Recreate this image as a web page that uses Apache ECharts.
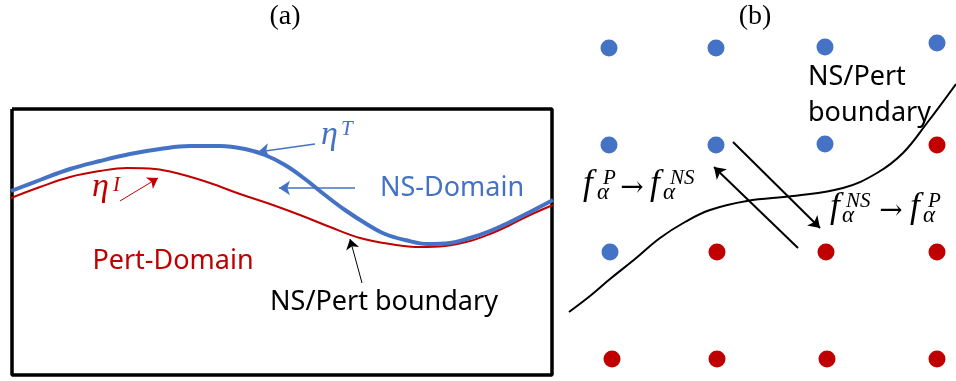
<!DOCTYPE html>
<html><head><meta charset="utf-8">
<script src="https://cdn.jsdelivr.net/npm/echarts@6/dist/echarts.min.js"></script>
<style>html,body{margin:0;padding:0;background:#fff}#c{width:956px;height:381px}</style>
</head><body><div id="c"></div>
<script>
// ---- data (pixel-space coordinates of the diagram) ----
const boxCorners = [[12,109],[552,109],[552,375],[12,375],[12,109]];
const blueInterface = [[11,191],[40,180],[70,169],[100,161],[130,154],[160,149],[190,146],[220,146],[245,149],[265,155],[285,165],[305,179],[325,195],[345,210],[365,223],[385,234],[405,240],[428,244],[450,243],[470,238],[490,231],[510,222],[530,212],[553,200]];
const redInterface = [[11,198],[40,187],[70,177],[100,171],[127,168],[155,169],[180,174],[210,183],[240,194],[270,204],[300,215],[330,227],[360,238],[390,244],[420,247],[445,246],[470,241],[490,234],[510,225],[530,215],[553,205]];
const boundaryCurve = [[569,312],[590,296],[610,279],[635,259],[660,238],[685,222],[710,210],[747,201],[793,196],[843,188],[877,173],[903,153],[927,123],[956,84]];
const blueNodes = [[609,48],[716,48],[825,47],[937,43],[609,145],[716,145],[825,144],[610,252]];
const redNodes = [[937,145],[717,252],[826,252],[937,252],[612,359],[717,359],[827,359],[937,359]];
const blueArrows = [[[315,144],[258,152]],[[355,188],[279,188]]];
const redArrows = [[[120,201],[158,178]]];
const thinBlackArrows = [[[362,283],[350,239]]];
const thickBlackArrows = [[[733,142],[820,228]],[[798,248],[714,167]]];
const panelTitles = [[285,17,'(a)'],[755,17,'(b)']];
const blueTexts = [[452,188,'NS-Domain']];
const redTexts = [[173,261,'Pert-Domain']];
const blackTexts = [[384,302,'NS/Pert boundary']];
const blackTextsLeft = [[808,77,'NS/Pert'],[808,113,'boundary']];
// math pieces: [x-left, baseline, text]
const mathBlueBig = [[321,146,'η']];
const mathBlueSup = [[341,136,'T']];
const mathRedBig = [[92,198,'η']];
const mathRedSup = [[113,192,'I']];
const mathBig = [[583,196,'f'],[650,196,'f'],[830,219,'f'],[910,219,'f']];
const mathSub = [[597,201,'α'],[663,201,'α'],[842,224,'α'],[923,224,'α']];
const mathSup = [[603,185,'P'],[670,185,'NS'],[846,208,'NS'],[928,208,'P']];
const mathArrows = [[632,189,'→'],[891,212,'→']];

const BLUE='#4472C4', RED='#C00000';
const SERIF='"Liberation Serif", "DejaVu Serif", serif';
const SANS='"Noto Sans", "Open Sans", sans-serif';

function textSeries(items, font){
  return {
    type:'scatter', symbolSize:0, silent:true, z:10,
    itemStyle:{opacity:1},
    data: items.map(t=>({value:[t[0], font.baseline ? t[1]-font.size*0.33 : t[1]], name:t[2]})),
    label:{show:true, position:[0,0], formatter:p=>p.name,
      fontSize:font.size, fontFamily:font.family, fontStyle:font.style||'normal',
      color:font.color, opacity:1, align:font.align||'center', verticalAlign:'middle'}
  };
}
function arrowSeries(list, color, width, size){
  return {type:'lines', coordinateSystem:'cartesian2d', silent:true, z:5,
    symbol:['none','arrow'], symbolSize:size,
    lineStyle:{color:color, width:width, opacity:1},
    data:list.map(c=>({coords:c}))};
}
function curve(data, color, width, z){
  return {type:'line', data:data, smooth:0.4, showSymbol:false, silent:true, z:z,
    lineStyle:{color:color, width:width}, itemStyle:{color:color}};
}

const chart = echarts.init(document.getElementById('c'), null, {renderer:'canvas'});
chart.setOption({
  animation:false,
  grid:{left:0,right:0,top:0,bottom:0},
  xAxis:{type:'value', min:0, max:956, show:false},
  yAxis:{type:'value', min:0, max:381, inverse:true, show:false},
  series:[
    {type:'line', data:boxCorners, showSymbol:false, silent:true, z:1, lineStyle:{color:'#000', width:3.5}},
    curve(redInterface, RED, 2, 2),
    curve(blueInterface, BLUE, 4, 3),
    curve(boundaryCurve, '#000', 2, 2),
    {type:'scatter', data:blueNodes, symbolSize:17, itemStyle:{color:BLUE, opacity:1}, silent:true, z:4},
    {type:'scatter', data:redNodes, symbolSize:17, itemStyle:{color:RED, opacity:1}, silent:true, z:4},
    arrowSeries(blueArrows, BLUE, 1.5, 11),
    arrowSeries(redArrows, RED, 1, 10),
    arrowSeries(thinBlackArrows, '#000', 1, 10),
    arrowSeries(thickBlackArrows, '#000', 2, 11),
    textSeries(panelTitles, {size:28, family:SERIF, color:'#000'}),
    textSeries(blueTexts, {size:27, family:SANS, color:BLUE}),
    textSeries(redTexts, {size:27, family:SANS, color:RED}),
    textSeries(blackTexts, {size:27, family:SANS, color:'#000'}),
    textSeries(blackTextsLeft, {size:27, family:SANS, color:'#000', align:'left'}),
    textSeries(mathBlueBig, {size:34, family:SERIF, style:'italic', color:BLUE, align:'left', baseline:true}),
    textSeries(mathBlueSup, {size:21, family:SERIF, style:'italic', color:BLUE, align:'left', baseline:true}),
    textSeries(mathRedBig, {size:34, family:SERIF, style:'italic', color:RED, align:'left', baseline:true}),
    textSeries(mathRedSup, {size:21, family:SERIF, style:'italic', color:RED, align:'left', baseline:true}),
    textSeries(mathBig, {size:35, family:SERIF, style:'italic', color:'#000', align:'left', baseline:true}),
    textSeries(mathSub, {size:23, family:SERIF, style:'italic', color:'#000', align:'left', baseline:true}),
    textSeries(mathSup, {size:21, family:SERIF, style:'italic', color:'#000', align:'left', baseline:true}),
    textSeries(mathArrows, {size:28, family:'"DejaVu Serif", serif', color:'#000'})
  ]
});
</script></body></html>
